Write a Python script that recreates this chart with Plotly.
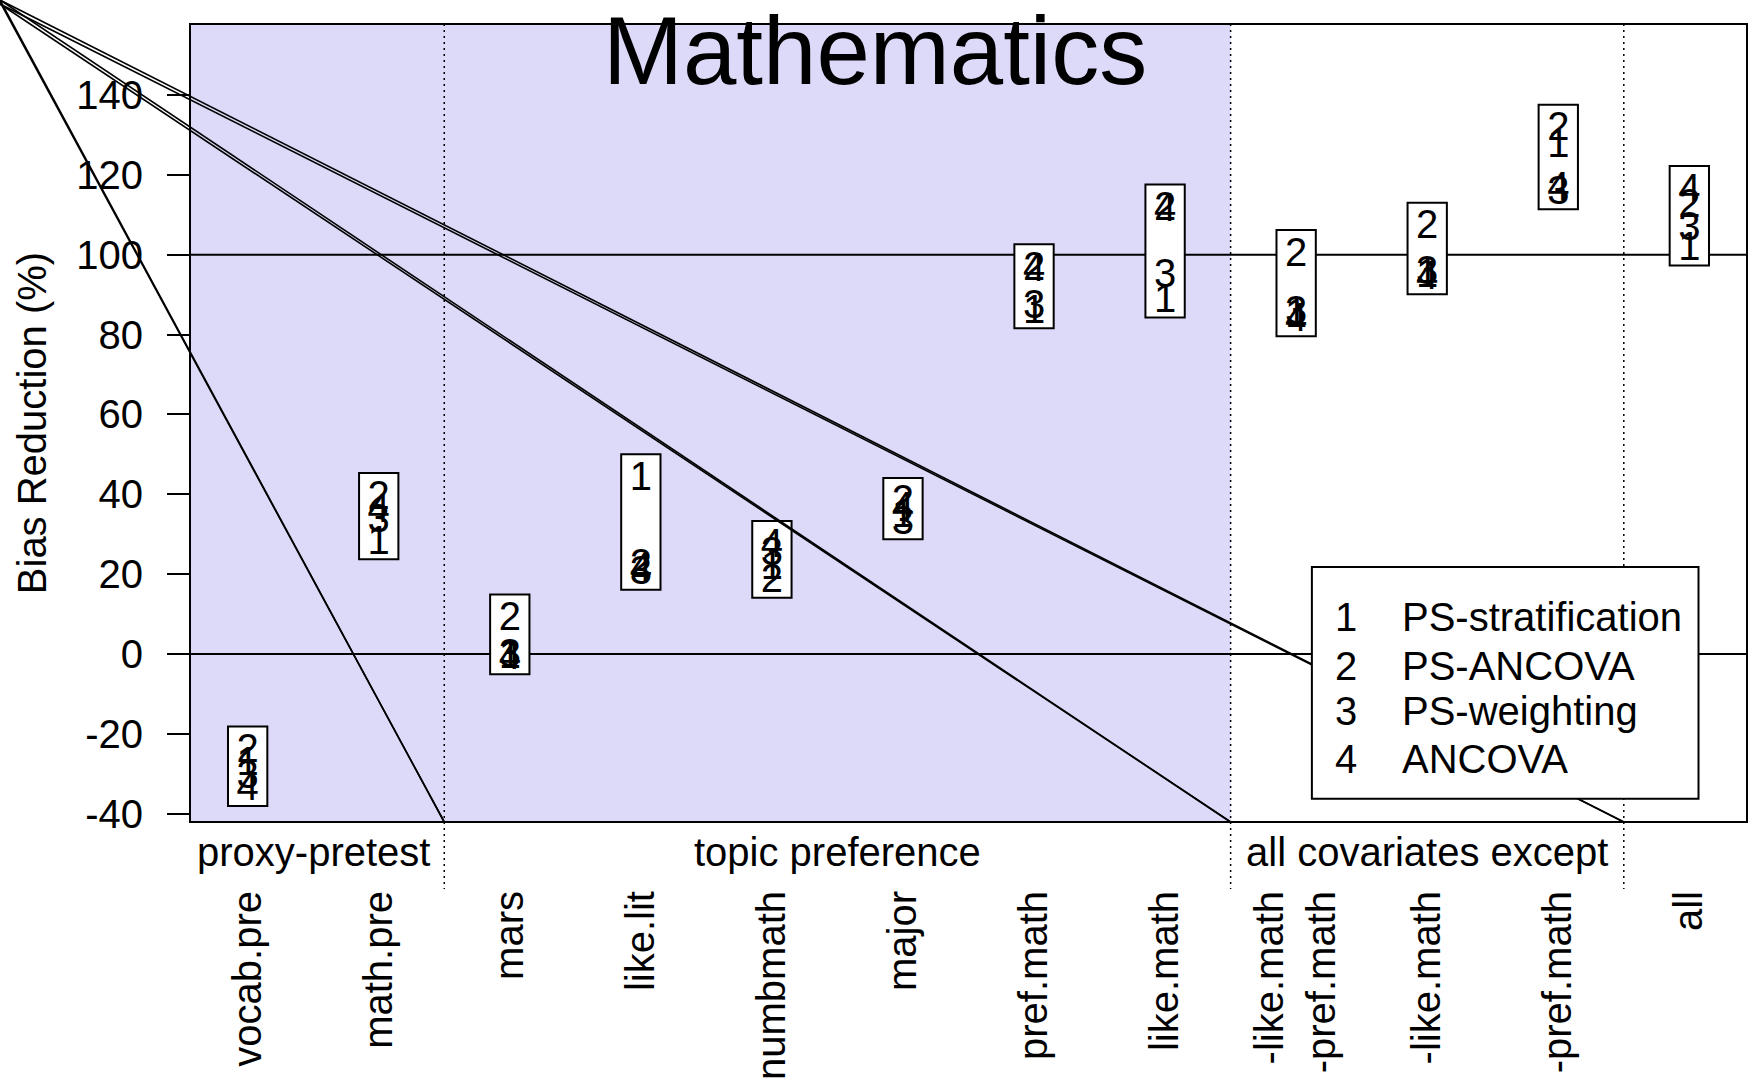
import plotly.graph_objects as go

# Covariate sets on the x axis
categories = ["vocab.pre", "math.pre", "mars", "like.lit", "numbmath", "major",
              "pref.math", "like.math", "-like.math<br>-pref.math", "-like.math",
              "-pref.math", "all"]

# Bias reduction (%) for each method and covariate set
ps_stratification = [-27.9, 27.6, -1.0, 43.6, 21.3, 34.3, 85.5, 88.2, 84.3, 94.5, 127.0, 101.2]
ps_ancova = [-24.6, 38.9, 8.5, 21.8, 18.0, 37.7, 96.2, 111.2, 99.8, 106.6, 131.2, 111.9]
ps_weighting = [-31.2, 33.0, -0.8, 20.0, 24.7, 32.6, 86.6, 94.5, 85.2, 95.3, 115.3, 106.2]
ancova = [-34.2, 35.5, -1.2, 20.8, 26.9, 36.0, 96.0, 111.0, 83.5, 94.0, 116.2, 115.8]

method_names = ["PS-stratification", "PS-ANCOVA", "PS-weighting", "ANCOVA"]
group_labels = ["proxy-pretest", "topic preference", "all covariates except"]
group_centers = [1.5, 5.5, 10]
group_breaks = [2.5, 8.5, 11.5]
y_ticks = [-40, -20, 0, 20, 40, 60, 80, 100, 120, 140]
reference_levels = [0, 100]

FONT = "Liberation Sans, Arial, sans-serif"
W, H = 1749, 1088
ML, MR, MT, MB = 190, 2, 24, 266
X_RANGE = [0.56, 12.44]
Y_RANGE = [-42.1, 157.8]
SHADE = "#DDDAF9"

PW = W - ML - MR
PH = H - MT - MB


def px_x(px):
    return (px - ML) / PW


def px_y(py):
    return (H - MB - py) / PH


def dx_paper(x):
    return (x - X_RANGE[0]) / (X_RANGE[1] - X_RANGE[0])


xs = list(range(1, len(categories) + 1))
series = [ps_stratification, ps_ancova, ps_weighting, ancova]

fig = go.Figure()

shapes = []
# shaded block covering the proxy-pretest and topic-preference sets
shapes.append(dict(type="rect", xref="x", yref="y", x0=X_RANGE[0], x1=group_breaks[1],
                   y0=Y_RANGE[0], y1=Y_RANGE[1], fillcolor=SHADE, line=dict(width=0),
                   layer="below"))
for lvl in reference_levels:
    shapes.append(dict(type="line", xref="x", yref="y", x0=X_RANGE[0], x1=X_RANGE[1],
                       y0=lvl, y1=lvl, line=dict(color="black", width=2), layer="below"))
# range box per covariate set
for i, x in enumerate(xs):
    vals = [s[i] for s in series]
    shapes.append(dict(type="rect", xref="x", yref="y", x0=x - 0.15, x1=x + 0.15,
                       y0=min(vals) - 3.9, y1=max(vals) + 6.4, fillcolor="white",
                       line=dict(color="black", width=2), layer="below"))

# dotted separators between covariate groups
for b in group_breaks:
    shapes.append(dict(type="line", xref="paper", yref="paper", x0=dx_paper(b), x1=dx_paper(b),
                       y0=1, y1=px_y(889), line=dict(color="black", width=1.5, dash="2px,4px"),
                       layer="above"))

# straight rays from the top-left corner down to the group separators
for b, starts in zip(group_breaks, [[0, 2], [0, 4], [0, 4]]):
    for s in starts:
        shapes.append(dict(type="line", xref="paper", yref="paper", x0=px_x(0), y0=px_y(s),
                           x1=dx_paper(b), y1=0, line=dict(color="black", width=1.6),
                           layer="above"))

# plot frame
shapes.append(dict(type="rect", xref="paper", yref="paper", x0=0, x1=1, y0=0, y1=1,
                   line=dict(color="black", width=2), fillcolor="rgba(0,0,0,0)", layer="above"))

# legend box
LEG_X0, LEG_X1, LEG_Y0, LEG_Y1 = 9.12, 12.07, -36.3, 21.8
shapes.append(dict(type="rect", xref="x", yref="y", x0=LEG_X0, x1=LEG_X1, y0=LEG_Y0, y1=LEG_Y1,
                   fillcolor="white", line=dict(color="black", width=2), layer="above"))

for k, s in enumerate(series):
    fig.add_trace(go.Scatter(x=xs, y=s, mode="text", text=[str(k + 1)] * len(xs),
                             textposition="middle center",
                             textfont=dict(family=FONT, size=40, color="black"),
                             showlegend=False, hoverinfo="skip", cliponaxis=False))

annotations = []
legend_rows = [9.3, -3.0, -14.4, -26.2]
for k, (name, yv) in enumerate(zip(method_names, legend_rows)):
    annotations.append(dict(x=9.378, y=yv, xref="x", yref="y", text=str(k + 1), showarrow=False,
                            xanchor="center", yanchor="middle",
                            font=dict(family=FONT, size=40, color="black")))
    annotations.append(dict(x=9.79, y=yv, xref="x", yref="y", text=name, showarrow=False,
                            xanchor="left", yanchor="middle",
                            font=dict(family=FONT, size=40, color="black")))

for lab, c in zip(group_labels, group_centers):
    annotations.append(dict(x=c, y=px_y(852), xref="x", yref="paper", text=lab, showarrow=False,
                            xanchor="center", yanchor="middle",
                            font=dict(family=FONT, size=40, color="black")))

annotations.append(dict(x=px_x(874.5), y=px_y(50), xref="paper", yref="paper",
                        text="Mathematics", showarrow=False, xanchor="center", yanchor="middle",
                        font=dict(family=FONT, size=96, color="black")))

fig.update_layout(
    width=W, height=H,
    margin=dict(l=ML, r=MR, t=MT, b=MB, pad=0),
    paper_bgcolor="white", plot_bgcolor="white",
    shapes=shapes, annotations=annotations,
    showlegend=False,
    font=dict(family=FONT, size=40, color="black"),
    xaxis=dict(range=X_RANGE, tickmode="array", tickvals=xs, ticktext=categories,
               tickangle=-90, ticks="", showgrid=False, zeroline=False, showline=False,
               ticklabelstandoff=60, tickfont=dict(family=FONT, size=40, color="black")),
    yaxis=dict(range=Y_RANGE, tickmode="array", tickvals=y_ticks,
               ticktext=[str(v) for v in y_ticks], ticks="outside", ticklen=22,
               tickwidth=2, tickcolor="black", showgrid=False, zeroline=False,
               showline=False, ticklabelstandoff=16,
               tickfont=dict(family=FONT, size=40, color="black"),
               title=dict(text="Bias Reduction (%)", standoff=17,
                          font=dict(family=FONT, size=40, color="black"))),
)

fig.write_html("out.html")
